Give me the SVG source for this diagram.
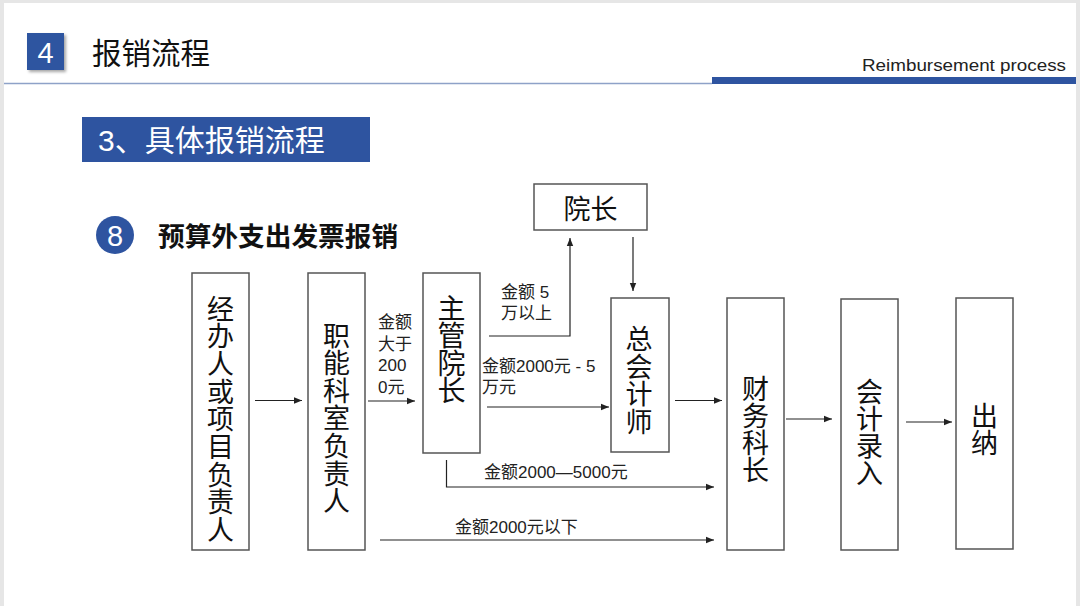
<svg xmlns="http://www.w3.org/2000/svg" width="1080" height="606" viewBox="0 0 1080 606">
<defs>
<marker id="ah" viewBox="0 0 10 10" refX="10" refY="5" markerWidth="8" markerHeight="8" markerUnits="userSpaceOnUse" orient="auto">
<path d="M0,1 L10,5 L0,9 Z" fill="#222"/>
</marker>
<filter id="sh" x="-20%" y="-20%" width="150%" height="150%">
<feDropShadow dx="2" dy="2" stdDeviation="1.5" flood-color="#000" flood-opacity="0.35"/>
</filter>
</defs>
<style>
.cjk{font-family:"Liberation Sans","Noto Sans CJK SC",sans-serif;}
.box{fill:#fff;stroke:#555;stroke-width:1.5;}
.vt{font-family:"Noto Sans CJK SC",sans-serif;font-size:27px;fill:#111;text-anchor:middle;dominant-baseline:central;}
.lbl{font-family:"Liberation Sans","Noto Sans CJK SC",sans-serif;font-size:17px;fill:#222;dominant-baseline:central;}
.ln{fill:none;stroke:#222;stroke-width:1.2;}
</style>
<rect x="0" y="0" width="1080" height="606" fill="#e6e6e6"/>
<rect x="4" y="3" width="1072" height="603" fill="#fff"/>

<g id="header">
<rect x="27" y="33" width="37" height="37" fill="#2e54a0" filter="url(#sh)"/>
<text x="45.5" y="63" font-family="Liberation Sans,Arial,sans-serif" font-size="29" fill="#fff" text-anchor="middle">4</text>
<text x="92" y="64" class="cjk" font-size="29.5" fill="#111">报销流程</text>
<line x1="4" y1="83.5" x2="712" y2="83.5" stroke="#8ea2c8" stroke-width="1.5"/>
<rect x="712" y="77" width="364" height="7" fill="#2e54a0"/>
<text x="1066" y="71" font-family="Liberation Sans,Arial,sans-serif" font-size="17" fill="#222" text-anchor="end" textLength="204" lengthAdjust="spacingAndGlyphs">Reimbursement process</text>
</g>

<g id="subtitle">
<rect x="82" y="117" width="288" height="45" fill="#2e54a0"/>
<text x="98" y="151" class="cjk" font-size="30" fill="#fff">3、具体报销流程</text>
</g>

<g id="section">
<circle cx="115" cy="235" r="19" fill="#2e54a0"/>
<text x="115" y="246" font-family="Liberation Sans,Arial,sans-serif" font-size="29" fill="#fff" text-anchor="middle">8</text>
<text x="158" y="246" class="cjk" font-size="26.7" font-weight="bold" fill="#111">预算外支出发票报销</text>
</g>

<g id="n1">
<rect class="box" x="192" y="273" width="57" height="277"/>
<text class="vt"><tspan x="220.5" y="306.5">经</tspan><tspan x="220.5" y="334.2">办</tspan><tspan x="220.5" y="361.9">人</tspan><tspan x="220.5" y="389.6">或</tspan><tspan x="220.5" y="417.3">项</tspan><tspan x="220.5" y="445">目</tspan><tspan x="220.5" y="472.7">负</tspan><tspan x="220.5" y="500.4">责</tspan><tspan x="220.5" y="528.1">人</tspan></text>
</g>
<g id="n2">
<rect class="box" x="308" y="273" width="57" height="277"/>
<text class="vt"><tspan x="336.5" y="333.5">职</tspan><tspan x="336.5" y="361.1">能</tspan><tspan x="336.5" y="388.7">科</tspan><tspan x="336.5" y="416.3">室</tspan><tspan x="336.5" y="443.9">负</tspan><tspan x="336.5" y="471.5">责</tspan><tspan x="336.5" y="499.1">人</tspan></text>
</g>
<g id="n3">
<rect class="box" x="423" y="273" width="57" height="180"/>
<text class="vt" style="font-size:28px"><tspan x="451.5" y="306.5">主</tspan><tspan x="451.5" y="334">管</tspan><tspan x="451.5" y="361.5">院</tspan><tspan x="451.5" y="389">长</tspan></text>
</g>
<g id="n4">
<rect class="box" x="534" y="184" width="113" height="46"/>
<text class="vt" x="590.5" y="207">院长</text>
</g>
<g id="n5">
<rect class="box" x="611" y="298" width="58" height="154"/>
<text class="vt"><tspan x="639" y="337">总</tspan><tspan x="639" y="364.5">会</tspan><tspan x="639" y="392">计</tspan><tspan x="639" y="419.5">师</tspan></text>
</g>
<g id="n6">
<rect class="box" x="727" y="298" width="57" height="252"/>
<text class="vt"><tspan x="755.5" y="386.5">财</tspan><tspan x="755.5" y="413.8">务</tspan><tspan x="755.5" y="441">科</tspan><tspan x="755.5" y="468.3">长</tspan></text>
</g>
<g id="n7">
<rect class="box" x="841" y="299" width="57" height="251"/>
<text class="vt"><tspan x="869.5" y="390">会</tspan><tspan x="869.5" y="417">计</tspan><tspan x="869.5" y="444">录</tspan><tspan x="869.5" y="471">入</tspan></text>
</g>
<g id="n8">
<rect class="box" x="956" y="298" width="57" height="251"/>
<text class="vt"><tspan x="984.5" y="413.5">出</tspan><tspan x="984.5" y="440.5">纳</tspan></text>
</g>

<g id="connectors">
<line class="ln" x1="255" y1="400.5" x2="302" y2="400.5" marker-end="url(#ah)"/>
<line class="ln" x1="368" y1="401" x2="415" y2="401" marker-end="url(#ah)"/>
<polyline class="ln" points="489,336 570,336 570,238" marker-end="url(#ah)"/>
<line class="ln" x1="633" y1="237" x2="633" y2="291" marker-end="url(#ah)"/>
<line class="ln" x1="487" y1="407" x2="609" y2="407" marker-end="url(#ah)"/>
<line class="ln" x1="675" y1="400.5" x2="722" y2="400.5" marker-end="url(#ah)"/>
<polyline class="ln" points="446.5,460 446.5,487 714,487" marker-end="url(#ah)"/>
<line class="ln" x1="380" y1="540" x2="714" y2="540" marker-end="url(#ah)"/>
<line class="ln" x1="786" y1="419" x2="832" y2="419" marker-end="url(#ah)"/>
<line class="ln" x1="906" y1="422" x2="952" y2="422" marker-end="url(#ah)"/>
</g>

<g id="labels">
<text class="lbl"><tspan x="378" y="322">金额</tspan><tspan x="378" y="343.5">大于</tspan><tspan x="378" y="365">200</tspan><tspan x="378" y="386.5">0元</tspan></text>
<text class="lbl"><tspan x="501" y="292">金额 5</tspan><tspan x="501" y="313">万以上</tspan></text>
<text class="lbl"><tspan x="482" y="365.5">金额2000元 -  5</tspan><tspan x="482" y="386.5">万元</tspan></text>
<text class="lbl" x="484" y="472.5">金额2000—5000元</text>
<text class="lbl" x="455" y="527">金额2000元以下</text>
</g>
</svg>
